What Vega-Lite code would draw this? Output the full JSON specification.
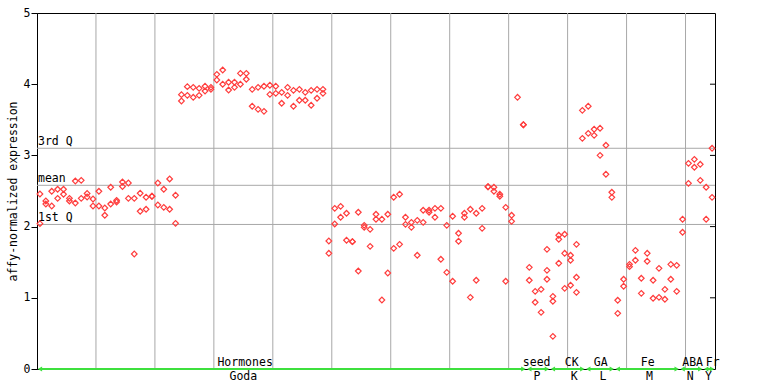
{
"$schema": "https://vega.github.io/schema/vega-lite/v6.json",
"width": 678, "height": 356,
"autosize": "none",
"padding": {"left": 37, "top": 13, "right": 53, "bottom": 15},
"background": "white",
"config": {"view": {"stroke": "black", "strokeWidth": 1}, "font": "DejaVu Sans Mono"},
"datasets": {
"pts": [
{"i":0,"v":2.458},{"i":0,"v":2.041},{"i":1,"v":2.360},{"i":1,"v":2.317},{"i":2,"v":2.496},{"i":2,"v":2.289},
{"i":3,"v":2.524},{"i":3,"v":2.397},{"i":4,"v":2.524},{"i":4,"v":2.454},{"i":5,"v":2.397},{"i":5,"v":2.360},
{"i":6,"v":2.640},{"i":6,"v":2.331},{"i":7,"v":2.650},{"i":7,"v":2.397},{"i":8,"v":2.465},{"i":8,"v":2.416},
{"i":9,"v":2.388},{"i":9,"v":2.289},{"i":10,"v":2.496},{"i":10,"v":2.289},{"i":11,"v":2.261},{"i":11,"v":2.159},
{"i":12,"v":2.552},{"i":12,"v":2.317},{"i":13,"v":2.369},{"i":13,"v":2.346},{"i":14,"v":2.626},{"i":14,"v":2.563},
{"i":15,"v":2.612},{"i":15,"v":2.397},{"i":16,"v":2.397},{"i":16,"v":1.615},{"i":17,"v":2.468},{"i":17,"v":2.215},
{"i":18,"v":2.412},{"i":18,"v":2.243},{"i":19,"v":2.426},{"i":19,"v":2.426},{"i":20,"v":2.612},{"i":20,"v":2.303},
{"i":21,"v":2.524},{"i":21,"v":2.271},{"i":22,"v":2.669},{"i":22,"v":2.243},{"i":23,"v":2.440},{"i":23,"v":2.046},
{"i":24,"v":3.764},{"i":24,"v":3.853},{"i":25,"v":3.965},{"i":25,"v":3.844},{"i":26,"v":3.956},{"i":26,"v":3.816},
{"i":27,"v":3.942},{"i":27,"v":3.844},{"i":28,"v":3.971},{"i":28,"v":3.904},{"i":29,"v":3.956},{"i":29,"v":3.928},
{"i":30,"v":4.139},{"i":30,"v":4.059},{"i":31,"v":4.199},{"i":31,"v":3.999},{"i":32,"v":4.027},{"i":32,"v":3.918},
{"i":33,"v":4.027},{"i":33,"v":3.956},{"i":34,"v":4.153},{"i":34,"v":3.999},{"i":35,"v":4.153},{"i":35,"v":4.069},
{"i":36,"v":3.928},{"i":36,"v":3.690},{"i":37,"v":3.956},{"i":37,"v":3.647},{"i":38,"v":3.971},{"i":38,"v":3.619},
{"i":39,"v":3.985},{"i":39,"v":3.858},{"i":40,"v":3.971},{"i":40,"v":3.872},{"i":41,"v":3.886},{"i":41,"v":3.732},
{"i":42,"v":3.956},{"i":42,"v":3.844},{"i":43,"v":3.914},{"i":43,"v":3.690},{"i":44,"v":3.928},{"i":44,"v":3.774},
{"i":45,"v":3.886},{"i":45,"v":3.774},{"i":46,"v":3.914},{"i":46,"v":3.704},{"i":47,"v":3.928},{"i":47,"v":3.802},
{"i":48,"v":3.928},{"i":48,"v":3.872},{"i":49,"v":1.798},{"i":49,"v":1.625},{"i":50,"v":2.257},{"i":50,"v":2.037},
{"i":51,"v":2.285},{"i":51,"v":2.131},{"i":52,"v":2.187},{"i":52,"v":1.808},{"i":53,"v":1.788},{"i":53,"v":1.788},
{"i":54,"v":2.201},{"i":54,"v":1.376},{"i":55,"v":2.018},{"i":55,"v":1.990},{"i":56,"v":1.962},{"i":56,"v":1.723},
{"i":57,"v":2.173},{"i":57,"v":2.103},{"i":58,"v":2.103},{"i":58,"v":0.969},{"i":59,"v":2.173},{"i":59,"v":1.348},
{"i":60,"v":2.412},{"i":60,"v":1.695},{"i":61,"v":2.454},{"i":61,"v":1.751},{"i":62,"v":2.131},{"i":62,"v":2.032},
{"i":63,"v":2.060},{"i":63,"v":1.990},{"i":64,"v":2.088},{"i":64,"v":1.597},{"i":65,"v":2.229},{"i":65,"v":2.060},
{"i":66,"v":2.229},{"i":66,"v":2.201},{"i":67,"v":2.257},{"i":67,"v":2.131},{"i":68,"v":2.257},{"i":68,"v":1.541},
{"i":69,"v":2.018},{"i":69,"v":1.358},{"i":70,"v":2.145},{"i":70,"v":1.232},{"i":71,"v":1.906},{"i":71,"v":1.794},
{"i":72,"v":2.187},{"i":72,"v":2.131},{"i":73,"v":2.243},{"i":73,"v":1.007},{"i":74,"v":2.187},{"i":74,"v":1.246},
{"i":75,"v":2.257},{"i":75,"v":1.976},{"i":76,"v":2.560},{"i":76,"v":2.560},{"i":77,"v":2.552},{"i":77,"v":2.496},
{"i":78,"v":2.454},{"i":78,"v":2.426},{"i":79,"v":2.271},{"i":79,"v":1.232},{"i":80,"v":2.159},{"i":80,"v":2.074},
{"i":81,"v":3.816},{"i":82,"v":3.431},{"i":82,"v":3.431},{"i":83,"v":1.428},{"i":83,"v":1.246},
{"i":84,"v":1.091},{"i":84,"v":0.937},{"i":85,"v":1.119},{"i":85,"v":0.796},
{"i":86,"v":1.681},{"i":86,"v":1.386},{"i":86,"v":1.260},{"i":87,"v":1.021},{"i":87,"v":0.951},{"i":87,"v":0.459},
{"i":88,"v":1.878},{"i":88,"v":1.822},{"i":88,"v":1.485},{"i":89,"v":1.892},{"i":89,"v":1.625},{"i":89,"v":1.133},
{"i":90,"v":1.597},{"i":90,"v":1.527},{"i":90,"v":1.176},{"i":91,"v":1.751},{"i":91,"v":1.288},{"i":91,"v":1.077},
{"i":92,"v":3.633},{"i":92,"v":3.240},{"i":93,"v":3.690},{"i":93,"v":3.310},{"i":94,"v":3.367},{"i":94,"v":3.282},
{"i":95,"v":3.381},{"i":95,"v":3.001},{"i":96,"v":3.142},{"i":96,"v":2.735},{"i":97,"v":2.482},{"i":97,"v":2.411},
{"i":98,"v":0.965},{"i":98,"v":0.782},{"i":99,"v":1.260},{"i":99,"v":1.162},{"i":100,"v":1.470},{"i":100,"v":1.437},
{"i":101,"v":1.667},{"i":101,"v":1.527},{"i":102,"v":1.274},{"i":102,"v":1.063},{"i":103,"v":1.625},{"i":103,"v":1.513},
{"i":104,"v":1.246},{"i":104,"v":0.993},{"i":105,"v":1.414},{"i":105,"v":1.007},{"i":106,"v":1.119},{"i":106,"v":0.979},
{"i":107,"v":1.470},{"i":107,"v":1.260},{"i":108,"v":1.456},{"i":108,"v":1.091},{"i":109,"v":2.103},{"i":109,"v":1.920},
{"i":110,"v":2.889},{"i":110,"v":2.608},{"i":111,"v":2.945},{"i":111,"v":2.833},{"i":112,"v":2.875},{"i":112,"v":2.650},
{"i":113,"v":2.552},{"i":113,"v":2.103},{"i":114,"v":3.100},{"i":114,"v":2.411}
],
"groups": [
{"name":"Hormones","sub":"Goda","s":0,"e":82,"tx":34.8,"bx":34.5},
{"name":"seed","sub":"P","s":83,"e":86,"tx":84.25,"bx":84.3},
{"name":"CK","sub":"K","s":87,"e":92,"tx":90.2,"bx":90.6},
{"name":"GA","sub":"L","s":93,"e":97,"tx":95.1,"bx":95.5},
{"name":"Fe","sub":"M","s":98,"e":108,"tx":103.1,"bx":103.4},
{"name":"ABA","sub":"N","s":109,"e":112,"tx":110.7,"bx":110.3},
{"name":"Fr","sub":"Y","s":113,"e":114,"tx":114.1,"bx":113.4}
],
"refs": [
{"v":3.10,"label":"3rd Q"},{"v":2.58,"label":"mean"},{"v":2.03,"label":"1st Q"}
],
"vgrid": [{"g":9.5},{"g":19.5},{"g":29.5},{"g":39.5},{"g":49.5},{"g":59.5},{"g":69.5},{"g":79.5},{"g":89.5},{"g":99.5},{"g":109.5}],
"rticks": [{"t":1},{"t":2},{"t":3},{"t":4}]
},
"layer": [
{
"data": {"name": "vgrid"},
"mark": {"type": "rule", "color": "#a8a8a8", "strokeWidth": 1},
"encoding": {
"x": {"field": "g", "type": "quantitative", "scale": {"domain": [-0.5, 114.5], "nice": false, "zero": false}, "axis": null}
}
},
{
"data": {"name": "refs"},
"mark": {"type": "rule", "color": "#a8a8a8", "strokeWidth": 1},
"encoding": {
"y": {"field": "v", "type": "quantitative", "scale": {"domain": [0, 5], "nice": false},
"axis": {"orient": "left", "values": [0,1,2,3,4,5], "format": "d", "grid": false, "tickSize": 6, "tickColor": "black", "domainColor": "black", "labelPadding": 1, "labelFont": "DejaVu Sans Mono", "labelFontSize": 11.5, "labelColor": "black", "title": "affy-normalized expression", "titleFont": "DejaVu Sans Mono", "titleFontSize": 11.5, "titleFontWeight": "normal", "titleColor": "black", "titlePadding": 5}}
}
},
{
"data": {"name": "rticks"},
"mark": {"type": "rule", "color": "black", "strokeWidth": 1},
"encoding": {
"x": {"datum": 113.65, "type": "quantitative", "axis": null},
"x2": {"datum": 114.5},
"y": {"field": "t", "type": "quantitative"}
}
},
{
"data": {"name": "refs"},
"mark": {"type": "text", "align": "left", "baseline": "alphabetic", "dx": 1, "dy": -3, "fontSize": 11.5, "font": "DejaVu Sans Mono", "color": "black"},
"encoding": {
"x": {"datum": -0.5, "type": "quantitative", "axis": null},
"y": {"field": "v", "type": "quantitative"},
"text": {"field": "label"}
}
},
{
"data": {"name": "pts"},
"mark": {"type": "point", "shape": "diamond", "filled": false, "stroke": "#ff3d3d", "strokeWidth": 1.2, "size": 32, "opacity": 1},
"encoding": {
"x": {"field": "i", "type": "quantitative", "axis": null},
"y": {"field": "v", "type": "quantitative"}
}
},
{
"data": {"name": "groups"},
"mark": {"type": "rule", "color": "#3ee03e", "strokeWidth": 2},
"encoding": {
"x": {"field": "s", "type": "quantitative", "axis": null},
"x2": {"field": "e"},
"y": {"datum": 0, "type": "quantitative"}
}
},
{
"data": {"name": "groups"},
"mark": {"type": "point", "shape": "triangle-left", "filled": true, "color": "#3ee03e", "size": 26, "opacity": 1},
"encoding": {
"x": {"field": "s", "type": "quantitative", "axis": null},
"y": {"datum": 0, "type": "quantitative"}
}
},
{
"data": {"name": "groups"},
"mark": {"type": "point", "shape": "triangle-right", "filled": true, "color": "#3ee03e", "size": 26, "opacity": 1},
"encoding": {
"x": {"field": "e", "type": "quantitative", "axis": null},
"y": {"datum": 0, "type": "quantitative"}
}
},
{
"data": {"name": "groups"},
"mark": {"type": "text", "align": "center", "baseline": "alphabetic", "dy": -3, "fontSize": 11.5, "font": "DejaVu Sans Mono", "color": "black"},
"encoding": {
"x": {"field": "tx", "type": "quantitative", "axis": null},
"y": {"datum": 0, "type": "quantitative"},
"text": {"field": "name"}
}
},
{
"data": {"name": "groups"},
"mark": {"type": "text", "align": "center", "baseline": "alphabetic", "dy": 11, "fontSize": 11.5, "font": "DejaVu Sans Mono", "color": "black"},
"encoding": {
"x": {"field": "bx", "type": "quantitative", "axis": null},
"y": {"datum": 0, "type": "quantitative"},
"text": {"field": "sub"}
}
}
]
}
